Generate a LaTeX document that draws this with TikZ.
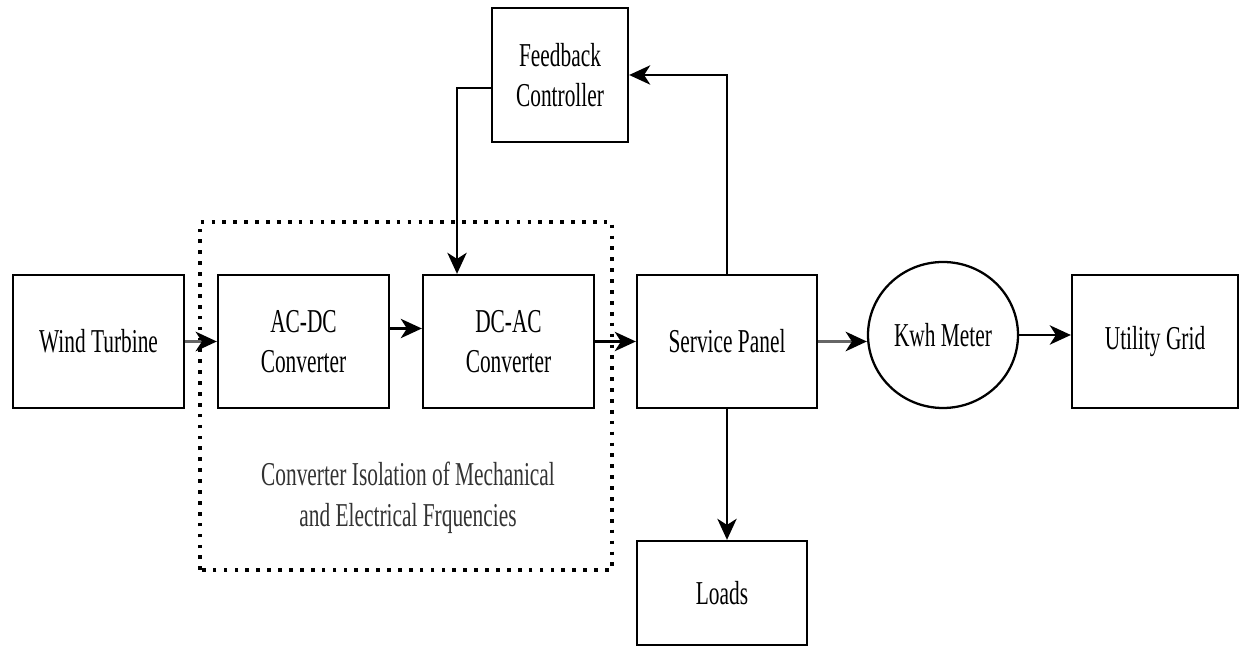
\documentclass[tikz,border=0pt]{standalone}
\usepackage{fontspec}
\setmainfont{Liberation Serif}[FakeStretch=0.64]
\usetikzlibrary{shapes,arrows.meta,positioning,calc}

\begin{document}
\begin{tikzpicture}[every node/.style={font=\fontsize{19}{23}\selectfont},
    block/.style={draw, line width=1.3pt, align=center, minimum width=3.42cm, minimum height=2.66cm},
    conn/.style={-{Stealth[length=12pt, width=11pt, inset=3.5pt]}, line width=1.3pt},
    grayconn/.style={-{Stealth[length=12pt, width=11pt, inset=3.5pt, color=black]}, line width=2.2pt, draw=black!60}]
            \useasboundingbox (0,0) rectangle (24.8,12.94);
            % Main chain
            \node[block] (wind) at (1.97,6.11) {Wind Turbine};
            \node[block] (acdc) at (6.07,6.11) {AC-DC\\Converter};
            \node[block] (dcac) at (10.17,6.11) {DC-AC\\Converter};
            \node[block, minimum width=3.6cm] (panel) at (14.54,6.11) {Service Panel};
            \node[draw, ellipse, line width=1.3pt, minimum width=3.0cm, minimum height=2.92cm, inner sep=0pt] (meter) at (18.86,6.24) {Kwh Meter};
            \node[block, minimum width=3.32cm] (grid) at (23.1,6.11) {Utility Grid};
            \node[block, minimum width=2.72cm, minimum height=2.68cm] (ctrl) at (11.2,11.44) {Feedback\\Controller};
            \node[block, minimum width=3.4cm, minimum height=2.08cm] (loads) at (14.44,1.08) {Loads};
            
            % Isolation boundary
            \draw[line width=2.1pt, dash pattern=on 2.1pt off 4.1pt] (4.0,1.54) rectangle (12.24,8.5);
            \node[align=center, text=black!80] (isol) at (8.16,2.98) {Converter Isolation of Mechanical\\and Electrical Frquencies};
            
            % Power flow
            \draw[grayconn] (wind.east) -- (acdc.west);
            \draw[conn] ([yshift=0.26cm]acdc.east) -- ([yshift=0.26cm]dcac.west);
            \draw[conn] (dcac.east) -- (panel.west);
            \draw[grayconn] (panel.east) -- (panel.east -| meter.west);
            \draw[conn] (meter.east) -- (meter.east -| grid.west);
            \draw[conn] (panel.south) -- (panel.south |- loads.north);
            
            % Feedback loop
            \draw[conn] (panel.north) |- (ctrl.east);
            \draw[conn] ([yshift=-0.26cm]ctrl.west) -| ([xshift=-1.03cm]dcac.north);
        \end{tikzpicture}
\end{document}
